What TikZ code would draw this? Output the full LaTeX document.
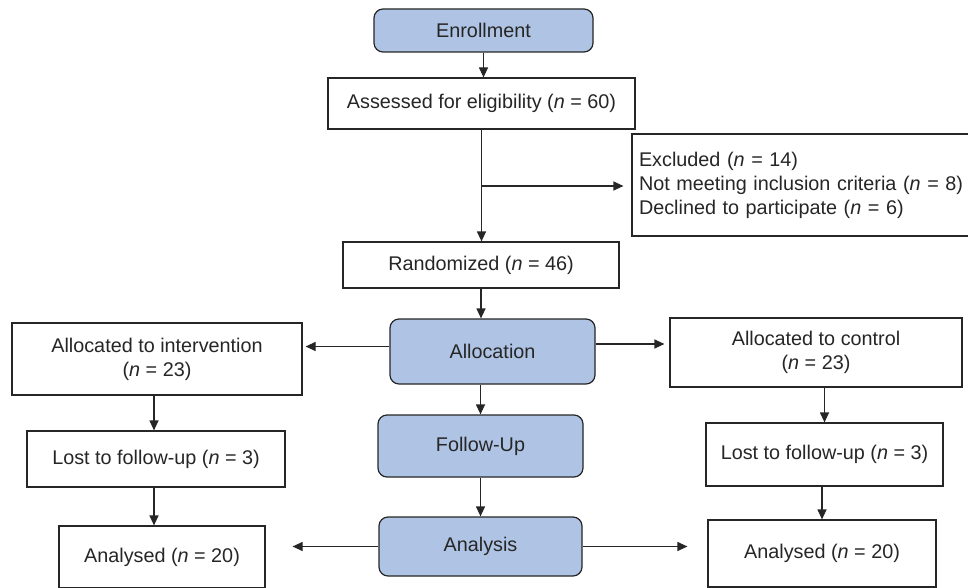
\documentclass[tikz,border=0pt]{standalone}
\usepackage{fontspec}
\setmainfont{Liberation Sans}
\usetikzlibrary{arrows.meta,calc}
\definecolor{boxblue}{HTML}{AFC4E4}
\definecolor{ink}{HTML}{262626}
\begin{document}
\begin{tikzpicture}[x=1pt,y=-1pt,
  every node/.style={font=\fontsize{19.8}{24}\selectfont, text=ink, inner sep=0pt},
  plainbox/.style={draw=ink, line width=1.2pt, fill=white, rectangle, align=center},
  bluebox/.style={draw=ink, line width=1.2pt, fill=boxblue, rectangle, rounded corners=9pt, align=center},
  arr/.style={draw=ink, line width=1.2pt, -{Triangle[length=10pt,width=9pt]}}
]
\useasboundingbox (0,0) rectangle (968,588);
\fill[white] (0,0) rectangle (968,588);

\node[bluebox, minimum width=219pt, minimum height=43pt] (enroll) at (483.5,30.5) {Enrollment};
\node[plainbox, minimum width=307pt, minimum height=51pt] (assess) at (481.5,103.5) {Assessed for eligibility (\textit{n} = 60)};
\node[plainbox, text width=329pt, inner xsep=7pt, minimum height=102pt, align=left] (excl) at (803.5,185) {Excluded (\textit{n} = 14)\\Not meeting inclusion criteria (\textit{n} = 8)\\Declined to participate (\textit{n} = 6)};
\node[plainbox, minimum width=276pt, minimum height=46pt] (random) at (481,265) {Randomized (\textit{n} = 46)};

\node[bluebox, minimum width=205pt, minimum height=65pt] (alloc) at (492.5,351.5) {Allocation};
\node[plainbox, minimum width=290pt, minimum height=72pt] (interv) at (157,359) {Allocated to intervention\\(\textit{n} = 23)};
\node[plainbox, minimum width=292pt, minimum height=69pt] (control) at (816,352.5) {Allocated to control\\(\textit{n} = 23)};

\node[bluebox, minimum width=205pt, minimum height=62pt] (follow) at (480.5,446) {Follow-Up};
\node[plainbox, minimum width=258pt, minimum height=56pt] (lostL) at (156,459) {Lost to follow-up (\textit{n} = 3)};
\node[plainbox, minimum width=237pt, minimum height=63pt] (lostR) at (824.5,454.5) {Lost to follow-up (\textit{n} = 3)};

\node[bluebox, minimum width=203pt, minimum height=59pt] (analysis) at (480.5,546.5) {Analysis};
\node[plainbox, minimum width=206pt, minimum height=62pt] (anaL) at (162,557) {Analysed (\textit{n} = 20)};
\node[plainbox, minimum width=228pt, minimum height=67pt] (anaR) at (822,553.5) {Analysed (\textit{n} = 20)};

\coordinate (br) at (481.5,186);

\draw[arr] (enroll.south) -- (enroll.south |- assess.north);
\draw[arr] (assess.south) -- (assess.south |- random.north);
\draw[arr, shorten >=8pt] (br) -- (br -| excl.west);
\draw[arr] (random.south) -- (random.south |- alloc.north);
\draw[arr, shorten >=3pt] ([yshift=5pt]alloc.west) -- ([yshift=5pt]alloc.west -| interv.east);
\draw[arr, shorten >=5pt] ([yshift=7.5pt]alloc.east) -- ([yshift=7.5pt]alloc.east -| control.west);
\draw[arr] (follow.north |- alloc.south) -- (follow.north);
\draw[arr] (follow.south) -- (analysis.north);
\draw[arr, shorten >=27pt] (analysis.west) -- (analysis.west -| anaL.east);
\draw[arr, shorten >=20pt] (analysis.east) -- (analysis.east -| anaR.west);
\draw[arr] ([xshift=-3pt]interv.south) -- ([xshift=-3pt]interv.south |- lostL.north);
\draw[arr] ([xshift=-2pt]lostL.south) -- ([xshift=-2pt]lostL.south |- anaL.north);
\draw[arr] (lostR.north |- control.south) -- (lostR.north);
\draw[arr] (anaR.north |- lostR.south) -- (anaR.north);
\end{tikzpicture}
\end{document}
